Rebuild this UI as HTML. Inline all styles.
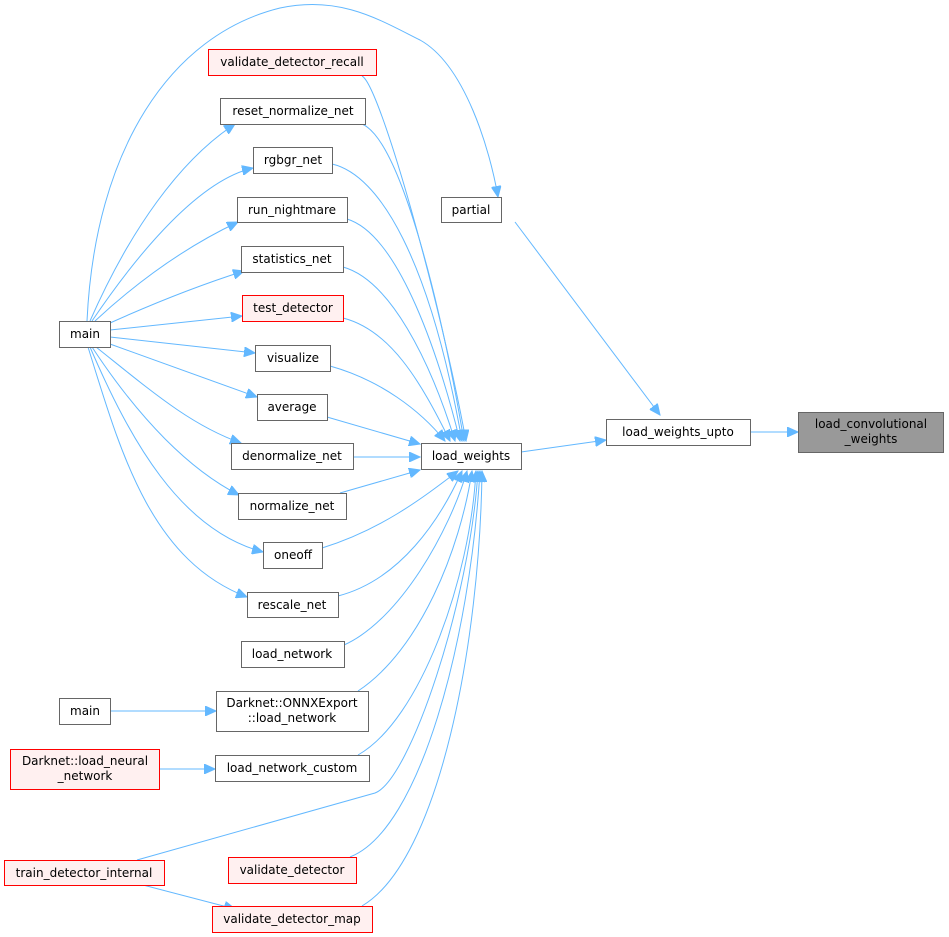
<!DOCTYPE html>
<html><head><meta charset="utf-8"><style>
html,body{margin:0;padding:0;background:#fff;}
svg{display:block;}
text{font-family:"DejaVu Sans","Liberation Sans",sans-serif;font-size:12px;fill:#000;}
</style></head><body>
<svg width="949" height="937" viewBox="0 0 949 937" xmlns="http://www.w3.org/2000/svg">
<defs>
<marker id="a" markerUnits="userSpaceOnUse" markerWidth="12" markerHeight="10" refX="11" refY="5" orient="auto">
<path d="M0,0 L11,5 L0,10 Z" fill="#63b8ff" stroke="#63b8ff"/>
</marker>
</defs>
<g fill="none" stroke="#63b8ff" stroke-width="1" marker-end="url(#a)">
<path d="M362,76 C380,85 440,300 466,441"/>
<path d="M362,124 C400,140 440,300 464,441"/>
<path d="M332,164 C380,175 430,260 462,441"/>
<path d="M347,219 C400,235 440,360 460,441"/>
<path d="M343,267 C390,280 430,360 455,441"/>
<path d="M343,318 C390,330 420,380 450,441"/>
<path d="M330,366 C380,380 420,410 445,441"/>
<path d="M327,417 L420,444"/>
<path d="M353,457 L420,457"/>
<path d="M340,493 L420,470"/>
<path d="M322,548 C380,530 420,500 458,471"/>
<path d="M338,596 C400,580 440,520 462,471"/>
<path d="M344,645 C400,620 450,530 467,471"/>
<path d="M358,691 C420,650 460,550 472,471"/>
<path d="M358,755 C420,720 470,580 476,471"/>
<path d="M137,860 L375,793 C410,780 470,600 478,471"/>
<path d="M350,857 C420,830 470,640 480,471"/>
<path d="M362,906 C440,860 480,640 482,471"/>
<path d="M87,321 C95,150 170,35 280,8 C340,-5 380,20 420,40 C465,65 490,150 498,197"/>
<path d="M90,321 C130,230 180,160 235,124"/>
<path d="M92,321 C140,250 200,180 253,168"/>
<path d="M95,321 C150,270 200,240 238,222"/>
<path d="M110,323 C150,305 200,285 244,271"/>
<path d="M110,330 L242,316"/>
<path d="M110,337 L255,353"/>
<path d="M110,344 L257,397"/>
<path d="M96,347 C150,390 190,425 241,443"/>
<path d="M92,347 C140,420 190,470 239,495"/>
<path d="M90,347 C130,440 180,530 263,552"/>
<path d="M88,347 C120,450 150,560 247,597"/>
<path d="M110,711 L216,711"/>
<path d="M159,769 L215,769"/>
<path d="M143,885 L235,909"/>
<path d="M521,452 L606,440"/>
<path d="M515,222 L660,415"/>
<path d="M750,432 L798,432"/>
</g>
<g stroke-width="1">
<g fill="#fff" stroke="#666">
<rect x="220.5" y="98.5" width="145" height="26"/>
<rect x="253.5" y="147.5" width="79" height="26"/>
<rect x="237.5" y="197.5" width="110" height="25"/>
<rect x="241.5" y="246.5" width="102" height="26"/>
<rect x="59.5" y="321.5" width="51" height="26"/>
<rect x="255.5" y="345.5" width="75" height="26"/>
<rect x="257.5" y="394.5" width="70" height="26"/>
<rect x="231.5" y="443.5" width="122" height="26"/>
<rect x="421.5" y="443.5" width="100" height="26"/>
<rect x="441.5" y="197.5" width="60" height="25"/>
<rect x="238.5" y="493.5" width="108" height="26"/>
<rect x="263.5" y="542.5" width="59" height="26"/>
<rect x="247.5" y="592.5" width="91" height="25"/>
<rect x="241.5" y="641.5" width="103" height="26"/>
<rect x="216.5" y="691.5" width="152" height="40"/>
<rect x="59.5" y="698.5" width="51" height="26"/>
<rect x="215.5" y="755.5" width="154" height="26"/>
<rect x="606.5" y="419.5" width="144" height="26"/>
</g>
<g fill="#fff0f0" stroke="#ff0000">
<rect x="208.5" y="49.5" width="168" height="26"/>
<rect x="242.5" y="295.5" width="101" height="26"/>
<rect x="10.5" y="749.5" width="149" height="40"/>
<rect x="4.5" y="860.5" width="160" height="25"/>
<rect x="228.5" y="857.5" width="128" height="26"/>
<rect x="212.5" y="906.5" width="160" height="26"/>
</g>
<rect x="798.5" y="412.5" width="145" height="40" fill="#999" stroke="#666"/>
</g>
<g text-anchor="middle">
<text x="292" y="66">validate_detector_recall</text>
<text x="293" y="115">reset_normalize_net</text>
<text x="293" y="164">rgbgr_net</text>
<text x="292" y="214">run_nightmare</text>
<text x="292" y="263">statistics_net</text>
<text x="293" y="312">test_detector</text>
<text x="85" y="338">main</text>
<text x="293" y="362">visualize</text>
<text x="292" y="411">average</text>
<text x="292" y="460">denormalize_net</text>
<text x="471" y="460">load_weights</text>
<text x="471" y="214">partial</text>
<text x="292" y="510">normalize_net</text>
<text x="293" y="559">oneoff</text>
<text x="292" y="609">rescale_net</text>
<text x="292" y="658">load_network</text>
<text x="292" y="707">Darknet::ONNXExport</text>
<text x="292" y="722">::load_network</text>
<text x="85" y="715">main</text>
<text x="85" y="765">Darknet::load_neural</text>
<text x="85" y="780">_network</text>
<text x="292" y="772">load_network_custom</text>
<text x="84" y="877">train_detector_internal</text>
<text x="292" y="874">validate_detector</text>
<text x="292" y="923">validate_detector_map</text>
<text x="678" y="436">load_weights_upto</text>
<text x="871" y="428">load_convolutional</text>
<text x="871" y="443">_weights</text>
</g>
</svg>
</body></html>
